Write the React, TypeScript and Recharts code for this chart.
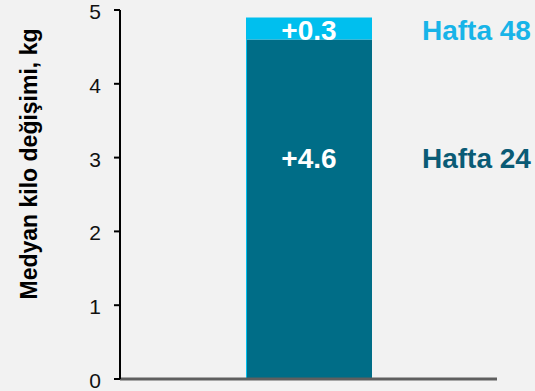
import React from "react";
import { BarChart, Bar, XAxis, YAxis, LabelList, Label } from "recharts";

// Median weight change, cumulative by week
const categories = ["Medyan"];
const week24Values = [4.6];
const week48Increment = [0.3];
const seriesNames = ["Hafta 24", "Hafta 48"];
const yTicks = [0, 1, 2, 3, 4, 5];
const yAxisTitle = "Medyan kilo değişimi, kg";

const DARK = "#006D87";
const DARK_TEXT = "#0A5B75";
const LIGHT = "#00BFEE";
const LIGHT_TEXT = "#18B4E8";
const FONT = "'Liberation Sans', Arial, sans-serif";

const data = categories.map((c, i) => ({
  name: c,
  w24: week24Values[i],
  w48: week48Increment[i],
}));

const fmt = (v: number) => `+${v.toFixed(1)}`;

// Dark segment with a thin light edge on its left side
const DarkShape = (props: any) => {
  const { x, y, width, height } = props;
  return (
    <g>
      <rect x={x} y={y} width={width} height={height} fill={DARK} />
      <rect x={x} y={y} width={1} height={height} fill={LIGHT} />
    </g>
  );
};

// Value inside the segment plus the series name to the right of the bar
const makeLabel = (seriesName: string, nameColor: string, frac: number, shift: number) =>
  (props: any) => {
    const { x, y, width, height, value } = props;
    const cy = y + height * frac + shift;
    return (
      <g>
        <text
          x={x + width / 2}
          y={cy + 10}
          textAnchor="middle"
          fill="#FFFFFF"
          fontFamily={FONT}
          fontWeight="bold"
          fontSize={28}
        >
          {fmt(Number(value))}
        </text>
        <text
          x={x + width + 50}
          y={cy + 10}
          textAnchor="start"
          fill={nameColor}
          fontFamily={FONT}
          fontWeight="bold"
          fontSize={28}
        >
          {seriesName}
        </text>
      </g>
    );
  };

// Y tick numbers, sitting slightly below their tick marks
const YTick = (props: any) => {
  const { x, y, payload } = props;
  return (
    <text
      x={x}
      y={y + 9}
      textAnchor="end"
      fill="#111111"
      fontFamily={FONT}
      fontSize={21}
    >
      {payload.value}
    </text>
  );
};

const YTitle = (props: any) => {
  const vb = props.viewBox || { x: 0, y: 10 };
  const cx = vb.x + 29;
  const cy = 164;
  return (
    <text
      x={cx}
      y={cy}
      transform={`rotate(-90, ${cx}, ${cy})`}
      textAnchor="middle"
      dominantBaseline="central"
      fill="#000000"
      fontFamily={FONT}
      fontWeight="bold"
      fontSize={23}
    >
      {yAxisTitle}
    </text>
  );
};

export default function App() {
  return (
    <div
      style={{
        position: "absolute",
        left: 0,
        top: 0,
        width: 535,
        height: 391,
        background: "#F2F2F2",
      }}
    >
      <BarChart
        width={535}
        height={391}
        data={data}
        margin={{ top: 10, right: 38, bottom: 0, left: 0 }}
        barSize={126}
      >
        <XAxis
          dataKey="name"
          tick={false}
          tickLine={false}
          height={12}
          axisLine={{ stroke: "#5F5F5F", strokeWidth: 3 }}
        />
        <YAxis
          width={120}
          domain={[0, 5]}
          ticks={yTicks}
          interval={0}
          tickSize={6}
          tickMargin={13}
          axisLine={{ stroke: "#000000", strokeWidth: 2 }}
          tickLine={{ stroke: "#000000", strokeWidth: 2 }}
          tick={YTick}
        >
          <Label content={YTitle} />
        </YAxis>
        <Bar
          dataKey="w24"
          stackId="a"
          fill={DARK}
          shape={DarkShape}
          isAnimationActive={false}
        >
          <LabelList dataKey="w24" content={makeLabel(seriesNames[0], DARK_TEXT, 0.35, 0)} />
        </Bar>
        <Bar dataKey="w48" stackId="a" fill={LIGHT} isAnimationActive={false}>
          <LabelList dataKey="w48" content={makeLabel(seriesNames[1], LIGHT_TEXT, 0.5, 1.5)} />
        </Bar>
      </BarChart>
    </div>
  );
}
